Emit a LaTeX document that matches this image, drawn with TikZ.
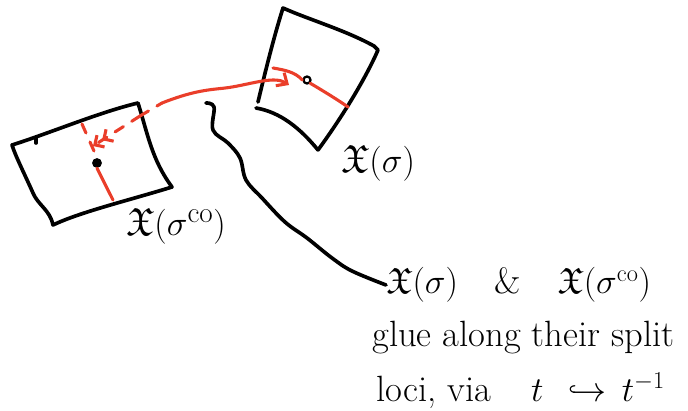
\documentclass[tikz,border=0pt]{standalone}
\usepackage{amssymb}
\usetikzlibrary{arrows.meta,positioning}
\definecolor{inkred}{RGB}{234,62,42}
\tikzset{
    ink/.style={line width=2.6pt,line cap=round,line join=round},
    redink/.style={draw=inkred,line width=2.2pt,line cap=round,line join=round},
    redgap/.style={redink,dash pattern=on 7pt off 7pt},
    handtext/.style={font=\fontsize{26}{30}\selectfont,inner sep=0pt},
    boxtext/.style={font=\fontsize{28}{32}\selectfont,inner sep=0pt},
    dotnode/.style={circle,fill=black,inner sep=0pt,minimum size=7pt},
    ringnode/.style={circle,draw=black,line width=1.6pt,inner sep=0pt,minimum size=5pt}
}
\begin{document}
\begin{tikzpicture}[x=0.025cm,y=-0.025cm]
\useasboundingbox (0,0) rectangle (688,410);
% box for sigma
\coordinate (s1) at (283,8);
\coordinate (s2) at (374,46);
\coordinate (s3) at (318,150);
\coordinate (s4) at (256,108);
\coordinate (s5) at (258,102);
\draw[ink] (s5) .. controls (268,60) and (276,30) .. (s1)
    .. controls (310,20) and (345,30) .. (s2) -- (378,50)
    .. controls (365,80) and (340,120) .. (s3);
\draw[ink] (s4) .. controls (280,112) and (300,128) .. (s3);
% box for sigma^co
\coordinate (c1) at (12,145);
\coordinate (c2) at (138,103);
\coordinate (c3) at (172,187);
\coordinate (c4) at (53,225);
\draw[ink] (c1) .. controls (50,133) and (100,112) .. (c2)
    .. controls (148,135) and (152,160) .. (c3)
    .. controls (130,200) and (80,212) .. (c4)
    .. controls (50,210) and (38,205) .. (33,193)
    .. controls (25,175) and (15,155) .. cycle;
\draw[ink] (36,138) -- (36,143);
% split loci
\node[ringnode] (p1) at (307,80) {};
\node[dotnode] (p2) at (97,163) {};
\draw[redink] (273,68) .. controls (285,70) and (295,72) .. (p1.west);
\draw[redink] (p1.south east) .. controls (325,92) and (338,100) .. (348,107);
\draw[redgap] (82,124) -- (p2.north);
\draw[redink] (p2.south) -- (113,200);
% identification arrow
\coordinate (a0) at (140,116);
\coordinate (a1) at (162,103);
\draw[redgap,-{Straight Barb[length=5pt,width=10pt]Straight Barb[length=5pt,width=10pt]}] (a0) -- (93,146);
\draw[redgap] (a0) -- (a1);
\draw[redink,-{Straight Barb[length=6pt,width=11pt]}] (a1)
    .. controls (200,88) and (215,90) .. (232,87)
    .. controls (255,83) and (275,76) .. (289,85);
% labels
\node[boxtext] (l1) at (378,163) {$\mathfrak{X}(\sigma)$};
\node[boxtext] (l2) at (176,226) {$\mathfrak{X}(\sigma^{\mathrm{co}})$};
\node[handtext,anchor=west] (g1) at (386,285) {$\mathfrak{X}(\sigma)$\quad\&\quad$\mathfrak{X}(\sigma^{\mathrm{co}})$};
\node[handtext,anchor=west] (g2) at (372,338) {glue along their split};
\node[handtext,anchor=west] (g3) at (376,391) {loci, via\hspace{1.1em}$t\hspace{0.4em}\hookrightarrow\hspace{0.15em}t^{-1}$};
% connector
\coordinate (w0) at (206,103);
\draw[ink] plot[smooth,tension=0.6] coordinates {(w0) (214,107) (213,130) (228,143) (240,158) (246,180) (262,198) (285,222) (307,238) (332,258) (352,271) (g1.west)};
\end{tikzpicture}
\end{document}
